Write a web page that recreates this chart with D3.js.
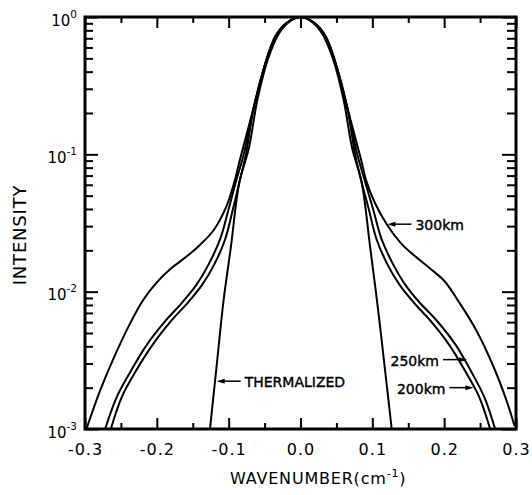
<!DOCTYPE html>
<html>
<head>
<meta charset="utf-8">
<script src="https://cdn.jsdelivr.net/npm/d3@7"></script>
<style>
  body { margin: 0; background: #fff; }
  text { font-family: "DejaVu Sans", sans-serif; fill: #000; }
</style>
</head>
<body>
<script>
// tick values / labels
const xMajor = [-0.3, -0.2, -0.1, 0, 0.1, 0.2, 0.3]
const xTickLabels = ["-0.3", "-0.2", "-0.1", "0.0", "0.1", "0.2", "0.3"]
const xMinor = [-0.25, -0.15, -0.05, 0.05, 0.15, 0.25]
const yDecades = [1e-3, 1e-2, 1e-1, 1]
const yExponents = ["-3", "-2", "-1", "0"]

// shared line core near the peak
const coreX = [-0.065, -0.05, -0.035, -0.02, 0, 0.02, 0.035, 0.05, 0.065]
const coreY = [0.22, 0.44, 0.72, 0.90, 1, 0.90, 0.72, 0.44, 0.22]

// thermalized profile
const thermX = [-0.126, -0.117, -0.107, -0.097, -0.085, -0.072, -0.060, -0.045, -0.030, -0.015, 0,
                0.015, 0.030, 0.045, 0.060, 0.072, 0.085, 0.097, 0.108, 0.118, 0.127]
const thermY = [0.001, 0.0028, 0.0087, 0.021, 0.063, 0.11, 0.25, 0.50, 0.76, 0.93, 1,
                0.93, 0.76, 0.50, 0.25, 0.11, 0.063, 0.021, 0.0074, 0.0026, 0.001]

// 200 km wings
const km200LeftX = [-0.264, -0.249, -0.230, -0.206, -0.178, -0.157, -0.137, -0.120, -0.105, -0.094, -0.085, -0.076]
const km200LeftY = [0.001, 0.0017, 0.0026, 0.0041, 0.0063, 0.0083, 0.0112, 0.0158, 0.024, 0.040, 0.063, 0.10]
const km200RightX = [0.076, 0.085, 0.095, 0.106, 0.121, 0.138, 0.158, 0.179, 0.207, 0.230, 0.249, 0.264]
const km200RightY = [0.10, 0.063, 0.040, 0.024, 0.0158, 0.0112, 0.0083, 0.0063, 0.0041, 0.0026, 0.0017, 0.001]

// 250 km wings
const km250LeftX = [-0.272, -0.256, -0.237, -0.214, -0.186, -0.165, -0.145, -0.128, -0.112, -0.100, -0.090, -0.079]
const km250LeftY = [0.001, 0.0017, 0.0026, 0.0041, 0.0063, 0.0083, 0.0112, 0.0158, 0.024, 0.040, 0.063, 0.10]
const km250RightX = [0.079, 0.090, 0.101, 0.113, 0.129, 0.146, 0.166, 0.188, 0.216, 0.238, 0.256, 0.271]
const km250RightY = [0.10, 0.063, 0.040, 0.024, 0.0158, 0.0112, 0.0083, 0.0063, 0.0041, 0.0026, 0.0017, 0.001]

// 300 km wings
const km300LeftX = [-0.298, -0.279, -0.261, -0.237, -0.219, -0.200, -0.180, -0.160, -0.140, -0.121, -0.103, -0.092, -0.084]
const km300LeftY = [0.001, 0.0019, 0.0032, 0.0059, 0.0087, 0.0117, 0.0148, 0.0178, 0.0219, 0.028, 0.042, 0.063, 0.093]
const km300RightX = [0.084, 0.092, 0.103, 0.120, 0.140, 0.160, 0.180, 0.200, 0.2175, 0.245, 0.268, 0.287, 0.298]
const km300RightY = [0.093, 0.063, 0.045, 0.031, 0.0225, 0.0180, 0.0148, 0.0120, 0.0089, 0.0052, 0.0029, 0.0016, 0.00105]

// label, arrow tip (data coords), direction the text sits from the tip
const notes = [
  {name: "THERMALIZED", x: -0.1167, y: 0.00223, side: 1},
  {name: "300km", x: 0.121, y: 0.031, side: 1},
  {name: "250km", x: 0.2318, y: 0.0032, side: -1},
  {name: "200km", x: 0.2407, y: 0.0020, side: -1}
]

function zipCurve(xs, ys) {
  return xs.map((d, i) => [d, ys[i]])
}

var curves = [
  zipCurve(thermX, thermY),
  zipCurve(km200LeftX.concat(coreX, km200RightX), km200LeftY.concat(coreY, km200RightY)),
  zipCurve(km250LeftX.concat(coreX, km250RightX), km250LeftY.concat(coreY, km250RightY)),
  zipCurve(km300LeftX.concat(coreX, km300RightX), km300LeftY.concat(coreY, km300RightY))
]

var width = 532, height = 495
var margin = {left: 85, right: 16, top: 17, bottom: 66}

var svg = d3.select("body").append("svg")
  .attr("width", width)
  .attr("height", height)

var x = d3.scaleLinear().domain([-0.3, 0.3]).range([margin.left, width - margin.right])
var y = d3.scaleLog().domain([1e-3, 1]).range([height - margin.bottom, margin.top])

var yMinor = []
yDecades.slice(0, 3).forEach(d => { for (var k = 2; k < 10; k++) yMinor.push(k * d) })

function tickStyle(g) {
  g.select(".domain").remove()
  g.selectAll("line").attr("stroke", "#000").attr("stroke-width", 2)
  g.attr("font-family", null).attr("font-size", null)
}

// x ticks, bottom and top, pointing inward
svg.append("g")
  .attr("transform", `translate(0,${y(1e-3)})`)
  .call(d3.axisBottom(x).tickValues(xMinor).tickSize(-6).tickFormat(""))
  .call(tickStyle)

var xAxis = svg.append("g")
  .attr("transform", `translate(0,${y(1e-3)})`)
  .call(d3.axisBottom(x).tickValues(xMajor).tickSize(-11).tickPadding(15)
    .tickFormat((d, i) => xTickLabels[i]))
  .call(tickStyle)
xAxis.selectAll("text").style("font-size", "16px").style("letter-spacing", "1px")

svg.append("g")
  .attr("transform", `translate(0,${y(1)})`)
  .call(d3.axisTop(x).tickValues(xMinor).tickSize(-6).tickFormat(""))
  .call(tickStyle)
svg.append("g")
  .attr("transform", `translate(0,${y(1)})`)
  .call(d3.axisTop(x).tickValues(xMajor).tickSize(-11).tickFormat(""))
  .call(tickStyle)

// y ticks, left and right
svg.append("g")
  .attr("transform", `translate(${x(-0.3)},0)`)
  .call(d3.axisLeft(y).tickValues(yMinor).tickSize(-8).tickFormat(""))
  .call(tickStyle)

var yAxis = svg.append("g")
  .attr("transform", `translate(${x(-0.3)},0)`)
  .call(d3.axisLeft(y).tickValues(yDecades).tickSize(-13).tickPadding(8).tickFormat(""))
  .call(tickStyle)

yAxis.selectAll("text")
  .attr("dy", null)
  .attr("y", 8)
  .style("font-size", "15px")
  .each(function(d, i) {
    var t = d3.select(this)
    t.append("tspan").text("10")
    t.append("tspan").attr("dy", -8).style("font-size", "10.5px").text(yExponents[i])
  })

svg.append("g")
  .attr("transform", `translate(${x(0.3)},0)`)
  .call(d3.axisRight(y).tickValues(yMinor).tickSize(-9).tickFormat(""))
  .call(tickStyle)
svg.append("g")
  .attr("transform", `translate(${x(0.3)},0)`)
  .call(d3.axisRight(y).tickValues(yDecades).tickSize(-14).tickFormat(""))
  .call(tickStyle)

// plot frame
svg.append("rect")
  .attr("x", x(-0.3))
  .attr("y", y(1))
  .attr("width", x(0.3) - x(-0.3))
  .attr("height", y(1e-3) - y(1))
  .attr("fill", "none")
  .attr("stroke", "#000")
  .attr("stroke-width", 3)

svg.append("clipPath").attr("id", "plotArea")
  .append("rect")
  .attr("x", x(-0.3)).attr("y", y(1))
  .attr("width", x(0.3) - x(-0.3)).attr("height", y(1e-3) - y(1))

var line = d3.line()
  .x(d => x(d[0]))
  .y(d => y(d[1]))
  .curve(d3.curveCatmullRom.alpha(0.5))

svg.append("g")
  .attr("clip-path", "url(#plotArea)")
  .selectAll("path")
  .data(curves)
  .enter().append("path")
  .attr("d", line)
  .attr("fill", "none")
  .attr("stroke", "#000")
  .attr("stroke-width", 2)
  .attr("stroke-linejoin", "round")

// annotations with arrows
var note = svg.selectAll(".note")
  .data(notes)
  .enter().append("g")
  .attr("class", "note")
  .attr("transform", d => `translate(${x(d.x)},${y(d.y)})`)

note.append("line")
  .attr("x1", d => d.side * 5)
  .attr("x2", d => d.side * 24)
  .attr("y1", 0).attr("y2", 0)
  .attr("stroke", "#000")
  .attr("stroke-width", 1.5)

note.append("path")
  .attr("d", d => `M0,0L${d.side * 8},-2.5L${d.side * 8},2.5Z`)
  .attr("fill", "#000")

note.append("text")
  .attr("x", d => d.side * 28)
  .attr("y", 6)
  .attr("text-anchor", d => d.side > 0 ? "start" : "end")
  .style("font-size", "14px")
  .style("stroke", "#000")
  .style("stroke-width", 0.4)
  .text(d => d.name)

// axis titles
var xTitle = svg.append("text")
  .attr("x", 230)
  .attr("y", 484)
  .style("font-size", "16px")
  .style("letter-spacing", "0.8px")
xTitle.append("tspan").text("WAVENUMBER(cm")
xTitle.append("tspan").attr("dy", -7).style("font-size", "11px").text("-1")
xTitle.append("tspan").attr("dy", 7).text(")")

svg.append("text")
  .attr("transform", "translate(26,235) rotate(-90)")
  .attr("text-anchor", "middle")
  .style("font-size", "18px")
  .style("letter-spacing", "0.8px")
  .text("INTENSITY")
</script>
</body>
</html>
